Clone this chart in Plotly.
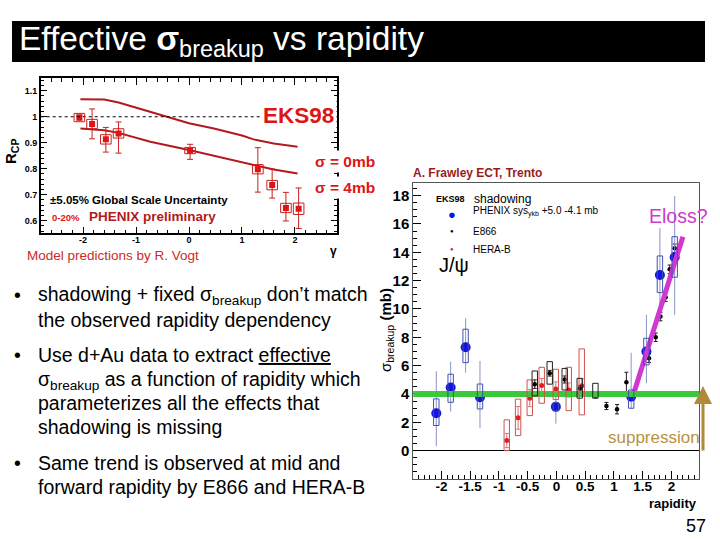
import plotly.graph_objects as go

W, H = 720, 540
def px(x): return x / W
def py(y): return 1 - y / H

# ---------------- Left chart data (R_CP vs y) ----------------
rcp_x = [-2.07, -1.83, -1.57, -1.33, 0.02, 1.30, 1.57, 1.83, 2.07]
rcp_y = [0.997, 0.972, 0.913, 0.936, 0.870, 0.798, 0.737, 0.649, 0.646]
rcp_err_hi = [0.010, 0.058, 0.046, 0.044, 0.024, 0.083, 0.062, 0.060, 0.080]
rcp_err_lo = [0.010, 0.057, 0.049, 0.076, 0.034, 0.088, 0.050, 0.050, 0.076]
rcp_sys = [0.016, 0.018, 0.018, 0.018, 0.012, 0.018, 0.018, 0.018, 0.022]

curve_x = [-2.05, -1.6, -1.33, -1.0, -0.41, 0.0, 0.47, 1.0, 1.22, 1.6, 2.05]
curve_0mb = [1.067, 1.066, 1.055, 1.035, 1.000, 0.975, 0.955, 0.928, 0.913, 0.897, 0.885]
curve4_x = [-2.05, -1.6, -1.33, -1.0, -0.73, 0.0, 0.85, 1.3, 1.6, 2.05]
curve_4mb = [0.955, 0.948, 0.938, 0.920, 0.904, 0.872, 0.833, 0.810, 0.797, 0.782]

# ---------------- Right chart data (sigma_breakup vs rapidity) ----------------
phenix_x = [-2.09, -1.84, -1.58, -1.33, -0.01, 1.30, 1.565, 1.80, 2.057]
phenix_y = [2.64, 4.45, 7.30, 3.77, 3.10, 3.81, 6.99, 12.40, 13.65]
phenix_box_lo = [1.77, 3.41, 6.21, 2.94, 2.80, 2.99, 6.05, 11.15, 12.24]
phenix_box_hi = [3.65, 5.39, 8.57, 4.70, 3.40, 4.28, 7.93, 13.74, 15.10]
phenix_err_lo = [0.30, 2.75, 5.50, 1.58, 1.90, 2.99, 4.75, 9.22, 9.58]
phenix_err_hi = [5.60, 6.28, 9.34, 6.33, 3.90, 6.90, 9.58, 15.70, 17.97]

e866_x = [-0.377, -0.117, 0.144, 0.405, 0.678, 0.87, 1.054, 1.217, 1.61, 1.727, 1.81, 1.90, 1.97, 2.057]
e866_y = [4.69, 5.46, 5.02, 4.38, 3.93, 3.15, 2.92, 4.82, 6.52, 8.00, 9.46, 10.82, 12.80, 14.28]
e866_err = [0.30, 0.20, 0.25, 0.20, 0.20, 0.25, 0.33, 0.71, 0.30, 0.30, 0.30, 0.30, 0.30, 0.30]
e866_box_lo = [3.86, 4.69, 4.28, 3.70, 3.70, None, None, None, None, None, None, None, None, None]
e866_box_hi = [5.62, 6.28, 5.80, 5.10, 4.75, None, None, None, None, None, None, None, None, None]

hera_x = [-0.864, -0.667, -0.464, -0.256, -0.012, 0.214, 0.44]
hera_y = [0.71, 2.31, 3.70, 4.59, 4.35, 4.28, 4.57]
hera_err = [0.5, 0.8, 0.6, 0.5, 0.5, 0.5, 0.5]
hera_box_lo = [0.00, 1.06, 2.47, 3.34, 3.60, 2.82, 2.52]
hera_box_hi = [2.17, 3.63, 4.99, 5.88, 5.74, 5.88, 7.18]

green_level = 4.0
eloss_x = [1.35, 2.20]
eloss_y = [4.1, 15.1]

x_ticks_right = [-2, -1.5, -1, -0.5, 0, 0.5, 1, 1.5, 2]
x_ticklabels_right = ["-2", "-1.5", "-1", "-0.5", "0", "0.5", "1", "1.5", "2"]
y_ticks_right = [-2, 0, 2, 4, 6, 8, 10, 12, 14, 16, 18]
y_ticklabels_right = ["-2", "0", "2", "4", "6", "8", "10", "12", "14", "16", "18"]
x_ticks_left = [-2, -1, 0, 1, 2]
x_ticklabels_left = ["-2", "-1", "0", "1", "2"]
y_ticks_left = [0.6, 0.7, 0.8, 0.9, 1.0, 1.1]
y_ticklabels_left = ["0.6", "0.7", "0.8", "0.9", "1", "1.1"]

FONT = "Liberation Sans, Arial, sans-serif"
RED = "#e01414"
DRED = "#b3191c"

fig = go.Figure()

# ---------- left chart traces ----------
fig.add_trace(go.Scatter(x=curve_x, y=curve_0mb, mode="lines",
                         line=dict(color=DRED, width=2), xaxis="x", yaxis="y"))
fig.add_trace(go.Scatter(x=curve4_x, y=curve_4mb, mode="lines",
                         line=dict(color=DRED, width=2), xaxis="x", yaxis="y"))
fig.add_trace(go.Scatter(x=rcp_x, y=rcp_y, mode="markers",
                         marker=dict(symbol="square", size=6, color=RED),
                         error_y=dict(type="data", symmetric=False, array=rcp_err_hi,
                                      arrayminus=rcp_err_lo, color="#c82020", thickness=1, width=3),
                         xaxis="x", yaxis="y"))

shapes = []
# title bar
shapes.append(dict(type="rect", xref="paper", yref="paper", x0=px(12), x1=px(705),
                   y0=py(62), y1=py(21), fillcolor="black", line=dict(width=0), layer="below"))
# dotted line at R_CP = 1
shapes.append(dict(type="line", xref="x", yref="y", x0=-2.8, x1=2.8, y0=1, y1=1,
                   line=dict(color="black", width=1, dash="dot")))
# left sys boxes
bw_l = 0.1
for xv, yv, s in zip(rcp_x, rcp_y, rcp_sys):
    shapes.append(dict(type="rect", xref="x", yref="y", x0=xv - bw_l, x1=xv + bw_l,
                       y0=yv - s, y1=yv + s, line=dict(color="#c82020", width=1)))

# ---------- right chart ----------
bw_r = 0.047
shapes.append(dict(type="line", xref="x2", yref="y2", x0=-2.5, x1=2.5,
                   y0=green_level, y1=green_level, line=dict(color="#3cc83c", width=6)))
for xv, lo, hi in zip(hera_x, hera_box_lo, hera_box_hi):
    shapes.append(dict(type="rect", xref="x2", yref="y2", x0=xv - bw_r, x1=xv + bw_r,
                       y0=lo, y1=hi, line=dict(color="#d05050", width=1)))
for xv, lo, hi in zip(e866_x, e866_box_lo, e866_box_hi):
    if lo is None:
        continue
    shapes.append(dict(type="rect", xref="x2", yref="y2", x0=xv - bw_r, x1=xv + bw_r,
                       y0=lo, y1=hi, line=dict(color="#202020", width=1)))
for xv, lo, hi in zip(phenix_x, phenix_box_lo, phenix_box_hi):
    shapes.append(dict(type="rect", xref="x2", yref="y2", x0=xv - bw_r, x1=xv + bw_r,
                       y0=lo, y1=hi, line=dict(color="#4050b0", width=1)))

ph_up = [h - y for h, y in zip(phenix_err_hi, phenix_y)]
ph_dn = [y - l for l, y in zip(phenix_err_lo, phenix_y)]
fig.add_trace(go.Scatter(x=hera_x, y=hera_y, mode="markers",
                         marker=dict(size=5, color="#e02020"),
                         error_y=dict(type="data", array=hera_err, color="#e07070", thickness=1, width=2),
                         xaxis="x2", yaxis="y2"))
fig.add_trace(go.Scatter(x=e866_x, y=e866_y, mode="markers",
                         marker=dict(size=4.5, color="black"),
                         error_y=dict(type="data", array=e866_err, color="#202020", thickness=1, width=2),
                         xaxis="x2", yaxis="y2"))
fig.add_trace(go.Scatter(x=phenix_x, y=phenix_y, mode="markers",
                         marker=dict(size=10, color="#1414e0"),
                         error_y=dict(type="data", symmetric=False, array=ph_up, arrayminus=ph_dn,
                                      color="#8a92c8", thickness=1, width=0),
                         xaxis="x2", yaxis="y2"))
fig.add_trace(go.Scatter(x=eloss_x, y=eloss_y, mode="lines",
                         line=dict(color="#d038d0", width=5), xaxis="x2", yaxis="y2"))

ann = []
def T(text, x, y, size, color="black", xa="left", ya="middle", bold=False, angle=0, bg=None, pad=0):
    d = dict(text=text, xref="paper", yref="paper", x=px(x), y=py(y), xanchor=xa, yanchor=ya,
             showarrow=False, font=dict(size=size, color=color, family=FONT,
                                        weight="bold" if bold else "normal"),
             textangle=angle, borderpad=pad)
    if bg:
        d["bgcolor"] = bg
    ann.append(d)

# title
T("Effective <b>σ</b><sub>breakup</sub> vs rapidity", 18, 41, 33.5, color="white")
# left chart texts
T("<b>EKS98</b>", 298, 116, 22.5, color=RED, xa="center", bg="white", pad=2)
T("<b>σ = 0mb</b>", 312, 161, 15.5, color=RED, bg="white", pad=2)
T("<b>σ = 4mb</b>", 312, 188, 15.5, color=RED, bg="white", pad=2)
T("±5.05% Global Scale Uncertainty", 49, 200, 11.5, bold=True)
T("0-20%", 51, 217, 9.5, color=RED, bold=True)
T("PHENIX preliminary", 88, 216, 13.5, color=DRED, bold=True)
T("Model predictions by R. Vogt", 26, 255, 13.5, color="#cc2a2a")
T("R<sub>CP</sub>", 12, 152, 15, bold=True, xa="center", angle=-90)
T("γ", 333, 251, 12, bold=True, xa="center")
# bullets
lines = [
    (295, "shadowing + fixed σ<sub>breakup</sub> don’t match", True),
    (320, "the observed rapidity dependency", False),
    (355, "Use d+Au data to extract <u>effective</u>", True),
    (380, "σ<sub>breakup</sub> as a function of rapidity which", False),
    (403, "parameterizes all the effects that", False),
    (427, "shadowing is missing", False),
    (463, "Same trend is observed at mid and", True),
    (487, "forward rapidity by E866 and HERA-B", False),
]
for yv, txt, bullet in lines:
    T(txt, 37, yv, 19.5)
    if bullet:
        T("•", 13, yv, 19.5)
# right chart texts
T("A. Frawley ECT, Trento", 412, 173, 12, color="#9b1b1b", bold=True)
T("EKS98", 435, 199, 9, bold=True)
T("shadowing", 473, 199, 12)
T("●", 452, 214, 13, color="#1414e0", xa="center")
T("PHENIX sys<sub>ykb</sub> +5.0 -4.1 mb", 472, 211, 10)
T("●", 452, 231, 6, color="black", xa="center")
T("E866", 472, 231, 10)
T("●", 452, 249, 6, color="#e02020", xa="center")
T("HERA-B", 472, 249, 10)
T("J/ψ", 438, 265, 20)
T("Eloss?", 709, 216, 19.5, color="#d038d0", xa="right")
T("suppression", 701, 437, 17, color="#b8923f", xa="right")
T("σ<sub>breakup</sub> <b>(mb)</b>", 386, 330, 15, xa="center", angle=-90)
T("rapidity", 698, 503, 13, bold=True, xa="right")
T("57", 707, 526, 18, xa="right")

# brown arrow
ann.append(dict(xref="paper", yref="paper", x=px(703), y=py(386), ax=0, ay=66,
                axref="pixel", ayref="pixel", text="", showarrow=True,
                arrowhead=2, arrowsize=1.2, arrowwidth=3, arrowcolor="#b08a3c"))

tickfont_l = dict(size=9, family=FONT, color="black", weight="bold")
tickfont_r = dict(size=13.5, family=FONT, color="black", weight="bold")

fig.update_layout(
    width=W, height=H, margin=dict(l=0, r=0, t=0, b=0),
    paper_bgcolor="white", plot_bgcolor="white", showlegend=False,
    shapes=shapes, annotations=ann,
    xaxis=dict(domain=[px(40.7), px(337.3)], range=[-2.8, 2.8], anchor="y",
               tickvals=x_ticks_left, ticktext=x_ticklabels_left,
               ticks="inside", ticklen=7, tickcolor="black",
               showline=True, linecolor="black", linewidth=1.5, mirror="allticks",
               showgrid=False, zeroline=False, tickfont=tickfont_l, ticklabelstandoff=-3,
               minor=dict(dtick=0.2, ticks="inside", ticklen=4, tickcolor="black", showgrid=False)),
    yaxis=dict(domain=[py(233.3), py(78.3)], range=[0.5515, 1.148], anchor="x",
               tickvals=y_ticks_left, ticktext=y_ticklabels_left,
               ticks="inside", ticklen=7, tickcolor="black",
               showline=True, linecolor="black", linewidth=1.5, mirror="allticks",
               showgrid=False, zeroline=False, tickfont=tickfont_l,
               minor=dict(dtick=0.02, ticks="inside", ticklen=4, tickcolor="black", showgrid=False)),
    xaxis2=dict(domain=[px(413.3), px(699)], range=[-2.49, 2.48], anchor="y2",
                tickvals=x_ticks_right, ticktext=x_ticklabels_right,
                ticks="inside", ticklen=8, tickcolor="black",
                showline=True, linecolor="#555555", linewidth=1, mirror=True,
                showgrid=False, zeroline=False, tickfont=tickfont_r, ticklabelstandoff=-5,
                minor=dict(dtick=0.1, ticks="inside", ticklen=4, tickcolor="black", showgrid=False)),
    yaxis2=dict(domain=[py(478.5), py(182.7)], range=[-1.97, 18.91], anchor="x2",
                tickvals=y_ticks_right, ticktext=y_ticklabels_right,
                ticks="inside", ticklen=8, tickcolor="black",
                showline=True, linecolor="#555555", linewidth=1, mirror=True,
                showgrid=False, zeroline=True, zerolinecolor="black", zerolinewidth=1,
                tickfont=dict(size=15, family=FONT, color="black", weight="bold"),
                minor=dict(dtick=0.5, ticks="inside", ticklen=4, tickcolor="black", showgrid=False)),
)

fig.write_html("out.html", config={"displayModeBar": False},
               post_script="document.body.style.margin='0';document.body.style.overflow='hidden';")
